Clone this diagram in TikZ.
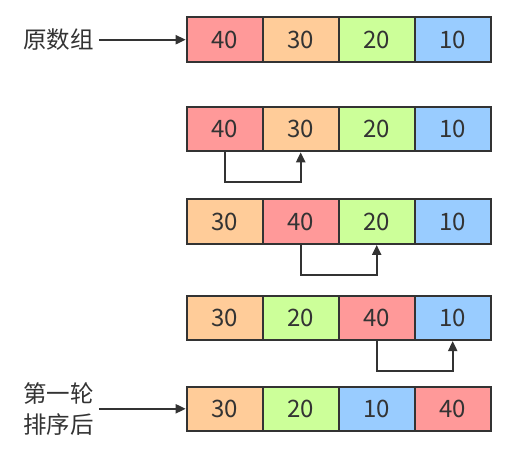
\documentclass[tikz,border=0pt]{standalone}
\usepackage{fontspec}
\setmainfont{Noto Sans CJK SC}
\usetikzlibrary{arrows.meta}
\definecolor{ink}{HTML}{333333}
\definecolor{c40}{HTML}{FF9999}
\definecolor{c30}{HTML}{FFCC99}
\definecolor{c20}{HTML}{CCFF99}
\definecolor{c10}{HTML}{99CCFF}
\tikzset{
  cell/.style={draw=ink, line width=2pt, minimum width=76pt, minimum height=44.5pt,
    inner sep=0pt, text=ink, font=\fontsize{24}{28}\selectfont},
  caption/.style={text=ink, font=\fontsize{23.5}{31}\selectfont, align=center, inner sep=5pt},
  link/.style={draw=ink, line width=2pt, -{Triangle[length=10pt,width=9pt]}}
}
\begin{document}
\begin{tikzpicture}[x=1pt,y=-1pt]
\useasboundingbox (0,0) rectangle (520,467);

% the five rows of the array
\foreach \r/\y/\a/\b/\c/\d in {1/39.7/40/30/20/10, 2/129/40/30/20/10,
    3/221.7/30/40/20/10, 4/317.8/30/20/40/10, 5/408.8/30/20/10/40}
  \foreach \v [count=\i] in {\a,\b,\c,\d}
    \node[cell, fill=c\v] (r\r-\i) at ({186.7+76*(\i-0.5)},\y) {\v};

% labels
\node[caption] (orig) at (58.5,39.7) {原数组};
\node[caption] (pass) at (58.5,409.5) {第一轮\\排序后};
\draw[link] (orig.east) -- (r1-1.west);
\draw[link] (pass.east |- r5-1.west) -- (r5-1.west);

% swaps
\draw[link] (r2-1.south) -- ++(0,30) -| (r2-2.south);
\draw[link] (r3-2.south) -- ++(0,30) -| (r3-3.south);
\draw[link] (r4-3.south) -- ++(0,30) -| (r4-4.south);
\end{tikzpicture}
\end{document}
